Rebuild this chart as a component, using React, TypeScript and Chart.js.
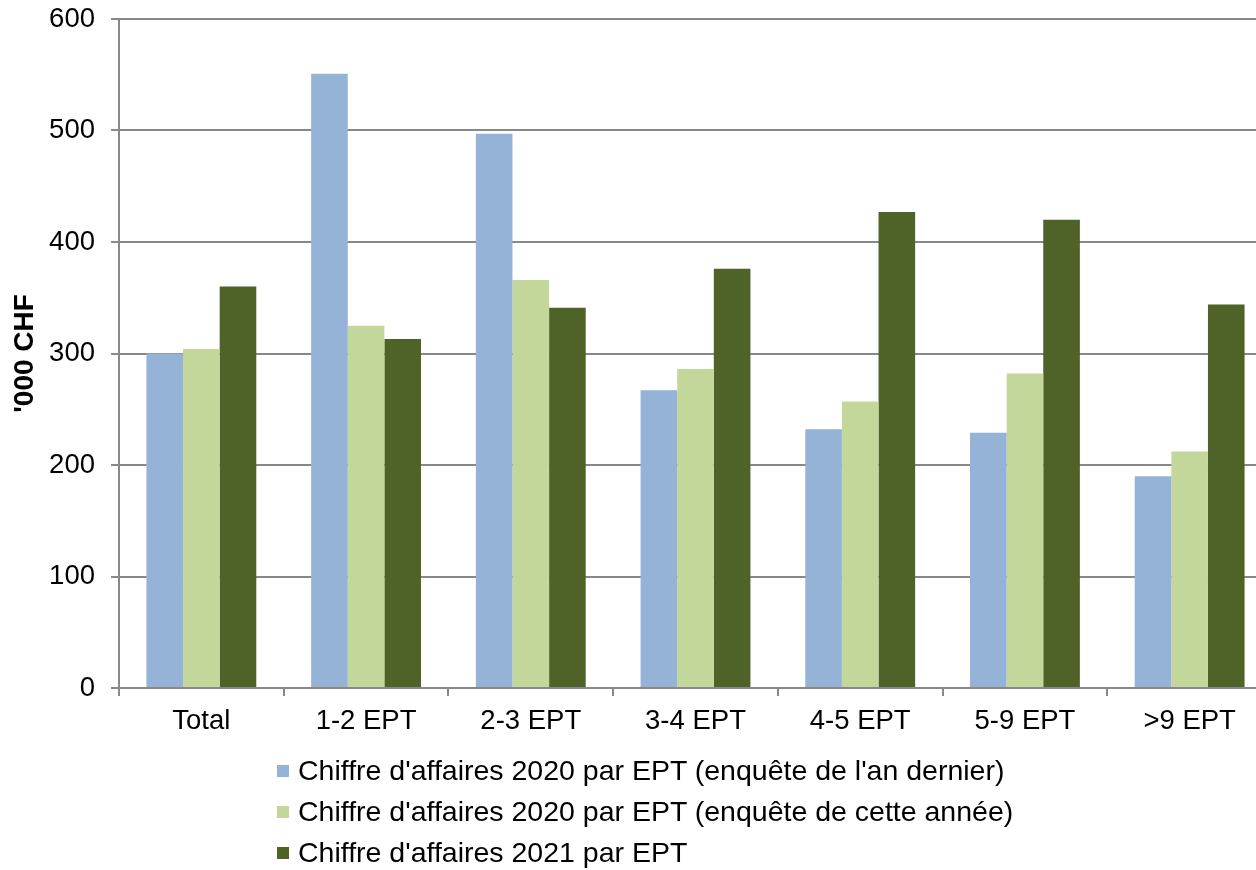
import React, { useEffect, useRef } from "react";
import { Chart, registerables } from "chart.js";

Chart.register(...registerables);

const categories = ["Total", "1-2 EPT", "2-3 EPT", "3-4 EPT", "4-5 EPT", "5-9 EPT", ">9 EPT"];
const seriesNames = [
  "Chiffre d'affaires 2020 par EPT (enquête de l'an dernier)",
  "Chiffre d'affaires 2020 par EPT (enquête de cette année)",
  "Chiffre d'affaires 2021 par EPT",
];
const ca2020Last = [300, 551, 497, 267, 232, 229, 190];
const ca2020This = [304, 325, 366, 286, 257, 282, 212];
const ca2021 = [360, 313, 341, 376, 427, 420, 344];
const colors = ["#95B3D7", "#C4D79B", "#4F6228"];
const yTicks = [0, 100, 200, 300, 400, 500, 600];

const FONT = "'Liberation Sans', Arial, sans-serif";

export default function App() {
  const ref = useRef<HTMLCanvasElement | null>(null);

  useEffect(() => {
    if (!ref.current) return;
    const values = [ca2020Last, ca2020This, ca2021];
    const chart = new Chart(ref.current, {
      type: "bar",
      data: {
        labels: categories,
        datasets: values.map((v, i) => ({
          label: seriesNames[i],
          data: v,
          backgroundColor: colors[i],
          borderWidth: 0,
          categoryPercentage: 0.667,
          barPercentage: 1.0,
        })),
      },
      options: {
        responsive: false,
        animation: false,
        layout: { padding: { top: 19, right: 0, bottom: 122, left: 0 } },
        plugins: {
          legend: { display: false },
          tooltip: { enabled: false },
        },
        scales: {
          x: {
            grid: {
              offset: true,
              drawOnChartArea: false,
              drawTicks: true,
              tickLength: 8,
              color: "#888888",
              lineWidth: 2,
            },
            border: { color: "#888888", width: 2 },
            ticks: {
              color: "#000000",
              font: { family: FONT, size: 27.5 },
              padding: 9,
              maxRotation: 0,
              autoSkip: false,
            },
            afterFit: (scale: any) => {
              scale.height = 60;
            },
          },
          y: {
            min: 0,
            max: 600,
            afterBuildTicks: (scale: any) => {
              scale.ticks = yTicks.map((v) => ({ value: v }));
            },
            grid: {
              color: "#888888",
              lineWidth: 2,
              drawTicks: true,
              tickLength: 8,
            },
            border: { color: "#888888", width: 2 },
            ticks: {
              color: "#000000",
              font: { family: FONT, size: 27.5 },
              padding: 16,
            },
            title: {
              display: true,
              text: "'000 CHF",
              color: "#000000",
              font: { family: FONT, size: 28, weight: "bold" },
              padding: { top: 8, bottom: 0 },
            },
            afterFit: (scale: any) => {
              scale.width = 119;
              scale.paddingTop = 0;
              scale.paddingBottom = 0;
            },
          },
        },
      },
    });
    return () => chart.destroy();
  }, []);

  return (
    <div
      style={{
        position: "absolute",
        left: 0,
        top: 0,
        width: 1256,
        height: 870,
        overflow: "hidden",
        background: "#ffffff",
      }}
    >
      <canvas ref={ref} width={1272} height={870} style={{ display: "block" }} />
      <div style={{ position: "absolute", left: 277, top: 750, fontFamily: FONT, fontSize: 28.5, color: "#000" }}>
        {seriesNames.map((name, i) => (
          <div key={i} style={{ display: "flex", alignItems: "center", height: 41 }}>
            <span
              style={{
                display: "inline-block",
                width: 12,
                height: 12,
                background: colors[i],
                marginRight: 9,
                flex: "none",
              }}
            />
            <span style={{ whiteSpace: "nowrap" }}>{name}</span>
          </div>
        ))}
      </div>
    </div>
  );
}
